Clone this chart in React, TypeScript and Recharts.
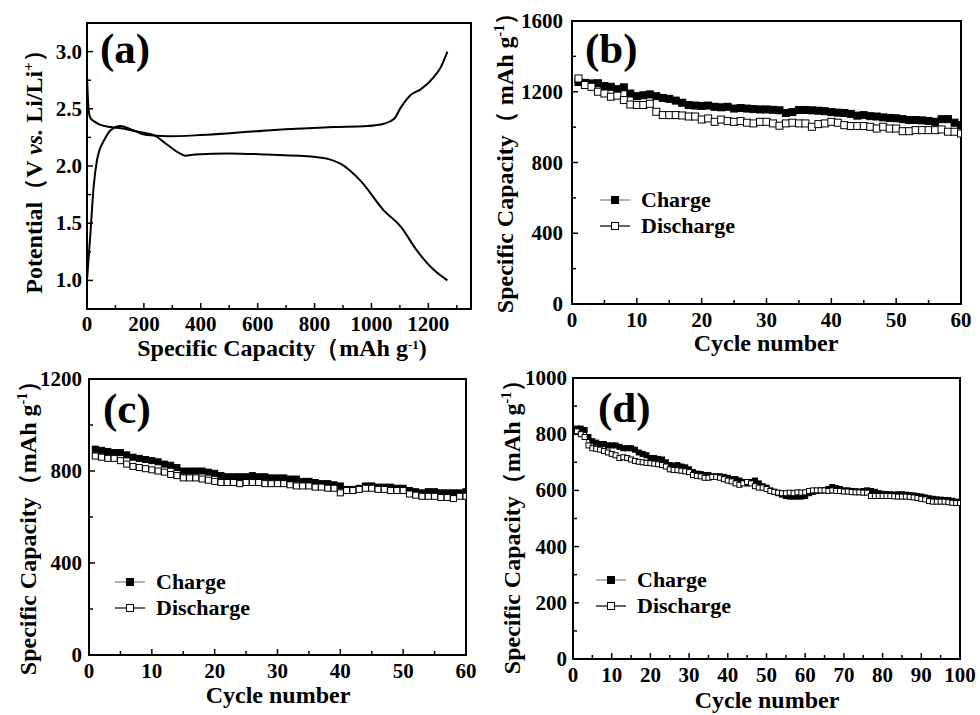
import { LineChart, Line, XAxis, YAxis, ReferenceArea, Legend } from "recharts";

const FONT = '"Liberation Serif", "Times New Roman", Times, serif';

// (a) voltage profile
const dischargeCapA = [0, 3, 6, 12, 25, 47, 80, 120, 160, 200, 235, 280, 320, 346, 380, 500, 633, 798, 850, 891, 962, 1044, 1103, 1160, 1220, 1267];
const dischargeVoltA = [2.78, 2.6, 2.48, 2.42, 2.39, 2.36, 2.34, 2.33, 2.31, 2.29, 2.27, 2.19, 2.12, 2.09, 2.1, 2.11, 2.1, 2.08, 2.06, 2.02, 1.87, 1.61, 1.47, 1.26, 1.09, 1.0];
const chargeCapA = [0, 12, 23, 35, 47, 59, 82, 117, 164, 211, 282, 399, 633, 868, 985, 1044, 1079, 1103, 1138, 1173, 1220, 1243, 1267];
const chargeVoltA = [1.0, 1.41, 1.81, 2.05, 2.16, 2.22, 2.31, 2.35, 2.31, 2.27, 2.26, 2.27, 2.31, 2.34, 2.35, 2.37, 2.41, 2.51, 2.62, 2.67, 2.78, 2.86, 3.0];
const xTicksA = [0, 100, 200, 300, 400, 500, 600, 700, 800, 900, 1000, 1100, 1200, 1300];
const yTicksA = [1, 1.25, 1.5, 1.75, 2, 2.25, 2.5, 2.75, 3];

// (b) cycling, 60 cycles
const chargeB = [1255, 1250, 1247, 1248, 1232, 1228, 1215, 1225, 1190, 1175, 1180, 1185, 1175, 1165, 1160, 1150, 1138, 1125, 1122, 1120, 1122, 1115, 1112, 1115, 1105, 1108, 1105, 1102, 1100, 1100, 1098, 1095, 1080, 1085, 1097, 1097, 1095, 1093, 1090, 1085, 1082, 1080, 1075, 1065, 1068, 1062, 1060, 1055, 1052, 1050, 1045, 1040, 1040, 1038, 1035, 1030, 1045, 1045, 1025, 1012];
const dischargeB = [1275, 1238, 1228, 1200, 1190, 1172, 1178, 1153, 1128, 1125, 1125, 1132, 1087, 1068, 1068, 1068, 1066, 1060, 1060, 1043, 1049, 1030, 1043, 1034, 1030, 1034, 1025, 1021, 1030, 1030, 1021, 1008, 1021, 1025, 1021, 1021, 1002, 1017, 1021, 1030, 1025, 1011, 1006, 1006, 1006, 1002, 992, 1002, 992, 992, 977, 977, 983, 983, 983, 983, 987, 974, 974, 964];
const yTicksB = [0, 200, 400, 600, 800, 1000, 1200, 1400, 1600];

// (c) cycling, 60 cycles
const chargeC = [895, 890, 885, 880, 880, 870, 860, 855, 850, 845, 840, 830, 825, 815, 800, 800, 800, 800, 795, 790, 780, 775, 775, 775, 775, 780, 775, 775, 770, 770, 770, 765, 765, 755, 755, 750, 745, 745, 740, 735, 720, 720, 725, 735, 735, 730, 730, 730, 725, 725, 715, 710, 705, 710, 710, 705, 705, 705, 705, 710];
const dischargeC = [865, 860, 855, 855, 845, 830, 820, 815, 810, 805, 800, 795, 785, 780, 770, 770, 770, 765, 760, 755, 750, 750, 750, 745, 750, 750, 750, 745, 745, 745, 745, 740, 735, 735, 735, 730, 730, 725, 725, 705, 715, 715, 720, 725, 725, 720, 720, 715, 715, 715, 700, 695, 690, 690, 690, 685, 685, 680, 690, 690];
const yTicksC = [0, 200, 400, 600, 800, 1000, 1200];

// (d) cycling, 100 cycles
const chargeD = [820, 820, 815, 790, 775, 770, 765, 765, 760, 760, 760, 755, 750, 750, 750, 745, 735, 730, 725, 715, 715, 712, 710, 700, 690, 688, 690, 685, 682, 675, 665, 660, 658, 655, 655, 650, 650, 650, 648, 645, 640, 640, 635, 630, 625, 630, 635, 625, 615, 610, 600, 595, 590, 585, 580, 578, 578, 578, 578, 580, 590, 595, 598, 600, 600, 605, 612, 608, 605, 600, 600, 598, 597, 596, 598, 600, 598, 595, 590, 588, 587, 586, 585, 586, 586, 585, 583, 582, 580, 578, 575, 572, 570, 568, 567, 566, 565, 563, 560, 558];
const dischargeD = [810, 800, 790, 760, 750, 748, 745, 740, 735, 730, 725, 715, 718, 715, 710, 705, 702, 700, 698, 697, 695, 693, 690, 685, 675, 673, 672, 670, 668, 665, 655, 652, 650, 645, 645, 648, 648, 645, 640, 635, 632, 625, 620, 625, 630, 625, 615, 610, 610, 605, 598, 595, 592, 590, 590, 592, 590, 593, 592, 593, 598, 600, 600, 600, 600, 598, 600, 598, 598, 596, 596, 594, 593, 593, 592, 592, 580, 580, 580, 580, 580, 580, 579, 578, 578, 578, 577, 575, 573, 570, 568, 562, 560, 560, 560, 560, 558, 556, 555, 555];
const yTicksD = [0, 100, 200, 300, 400, 500, 600, 700, 800, 900, 1000];

const cycleTicks60 = [0, 5, 10, 15, 20, 25, 30, 35, 40, 45, 50, 55, 60];
const cycleTicks100 = [0, 5, 10, 15, 20, 25, 30, 35, 40, 45, 50, 55, 60, 65, 70, 75, 80, 85, 90, 95, 100];

const toPoints = (xs: number[], ys: number[]) => xs.map((x, i) => ({ x, y: ys[i] }));
const toCycles = (ys: number[]) => ys.map((y, i) => ({ x: i + 1, y }));

const isMajor = (v: number, step: number) => Math.abs(v / step - Math.round(v / step)) < 1e-6;

const textStyle = { fontFamily: FONT, fontWeight: 700, fill: "#000" } as const;

// inward ticks, labels only on major values
const xTick = (step: number, drop = 23) => (p: any) => {
  const v = p.payload.value;
  const major = isMajor(v, step);
  return (
    <g>
      <line x1={p.x} x2={p.x} y1={p.y} y2={p.y - (major ? 6 : 4)} stroke="#000" strokeWidth={1.5} />
      {major && (
        <text x={p.x} y={p.y + drop} textAnchor="middle" fontSize={21} {...textStyle}>
          {String(v)}
        </text>
      )}
    </g>
  );
};

const yTick = (step: number, gap: number, fmt: (v: number) => string) => (p: any) => {
  const v = p.payload.value;
  const major = isMajor(v, step);
  return (
    <g>
      <line x1={p.x} x2={p.x + (major ? 6 : 4)} y1={p.y} y2={p.y} stroke="#000" strokeWidth={1.5} />
      {major && (
        <text x={p.x - gap} y={p.y + 7} textAnchor="end" fontSize={21} {...textStyle}>
          {fmt(v)}
        </text>
      )}
    </g>
  );
};

const squareDot = (size: number, filled: boolean) => (p: any) => {
  if (p.cx == null || p.cy == null) return <g key={p.index} />;
  return (
    <rect
      key={p.index}
      x={p.cx - size / 2}
      y={p.cy - size / 2}
      width={size}
      height={size}
      fill={filled ? "#000" : "#fff"}
      stroke="#000"
      strokeWidth={1}
    />
  );
};

const capacityTitleY = (bx: number, cy: number, spaced: boolean) => () => (
  <text transform={`rotate(-90 ${bx} ${cy})`} x={bx} y={cy} textAnchor="middle" fontSize={24} {...textStyle}>
    {spaced ? "Specific Capacity（ mAh g" : "Specific Capacity（mAh g"}
    <tspan dy={-9} fontSize={14}>-1</tspan>
    <tspan dy={9}>{"）"}</tspan>
  </text>
);

const cycleTitleX = (cx: number, by: number) => () => (
  <text x={cx} y={by} textAnchor="middle" fontSize={24} {...textStyle}>
    Cycle number
  </text>
);

const panelTag = (tx: number, ty: number, tag: string) => () => (
  <text x={tx} y={ty} fontSize={43} {...textStyle}>
    {tag}
  </text>
);

const renderLegend = (size: number) => (props: any) => (
  <div style={{ fontFamily: FONT, fontWeight: 700, fontSize: 22, color: "#000" }}>
    {(props.payload ?? []).map((e: any) => {
      const filled = e.value === "Charge";
      return (
        <div key={e.value} style={{ display: "flex", alignItems: "center", height: 26 }}>
          <svg width={30} height={10} style={{ marginRight: 11 }}>
            <line x1={0} x2={30} y1={5} y2={5} stroke={filled ? "#999" : "#333"} strokeWidth={1.5} />
            <rect x={15 - size / 2} y={5 - size / 2} width={size} height={size} fill={filled ? "#000" : "#fff"} stroke="#000" />
          </svg>
          <span>{e.value}</span>
        </div>
      );
    })}
  </div>
);

function ProfilePanel() {
  return (
    <div style={{ position: "absolute", left: 0, top: 0 }}>
      <LineChart width={490} height={370} margin={{ top: 23, right: 19, left: 0, bottom: 0 }}>
        <XAxis
          type="number"
          dataKey="x"
          domain={[0, 1350]}
          ticks={xTicksA}
          interval={0}
          tickSize={0}
          tickMargin={0}
          tickLine={false}
          axisLine={false}
          tick={xTick(200, 22)}
          height={61}
          allowDataOverflow
          label={() => (
            <text x={282} y={356} textAnchor="middle" fontSize={24} {...textStyle}>
              {"Specific Capacity（mAh g"}
              <tspan dy={-7} fontSize={13}>-1</tspan>
              <tspan dy={7}>)</tspan>
            </text>
          )}
        />
        <YAxis
          type="number"
          dataKey="y"
          domain={[0.75, 3.25]}
          ticks={yTicksA}
          interval={0}
          tickSize={0}
          tickMargin={0}
          tickLine={false}
          axisLine={false}
          tick={yTick(0.5, 5, (v) => v.toFixed(1))}
          width={87}
          allowDataOverflow
          label={() => (
            <text transform="rotate(-90 42 166)" x={42} y={166} textAnchor="middle" fontSize={24} {...textStyle}>
              {"Potential（V "}
              <tspan fontStyle="italic">vs.</tspan>
              {" Li/Li"}
              <tspan dy={-9} fontSize={15}>+</tspan>
              <tspan dy={9}>{"）"}</tspan>
            </text>
          )}
        />
        <ReferenceArea
          x1={0}
          x2={1350}
          y1={0.75}
          y2={3.25}
          fill="none"
          stroke="#000"
          strokeWidth={2}
          label={panelTag(100, 63, "(a)")}
        />
        <Line
          data={toPoints(dischargeCapA, dischargeVoltA)}
          dataKey="y"
          type="monotone"
          stroke="#000"
          strokeWidth={2}
          dot={false}
          isAnimationActive={false}
        />
        <Line
          data={toPoints(chargeCapA, chargeVoltA)}
          dataKey="y"
          type="monotone"
          stroke="#000"
          strokeWidth={2}
          dot={false}
          isAnimationActive={false}
        />
      </LineChart>
    </div>
  );
}

type CycleProps = {
  left: number;
  top: number;
  height: number;
  mTop: number;
  yWidth: number;
  mRight: number;
  xHeight: number;
  xMax: number;
  xTicks: number[];
  yMax: number;
  yTicks: number[];
  yStep: number;
  yGap: number;
  charge: number[];
  discharge: number[];
  marker: number;
  yTitle: [number, number, boolean];
  xTitle: [number, number];
  tag: [number, number, string];
  legendPos: [number, number];
};

function CyclePanel(p: CycleProps) {
  return (
    <div style={{ position: "absolute", left: p.left, top: p.top }}>
      <LineChart width={490} height={p.height} margin={{ top: p.mTop, right: p.mRight, left: 0, bottom: 0 }}>
        <XAxis
          type="number"
          dataKey="x"
          domain={[0, p.xMax]}
          ticks={p.xTicks}
          interval={0}
          tickSize={0}
          tickMargin={0}
          tickLine={false}
          axisLine={false}
          tick={xTick(10)}
          height={p.xHeight}
          allowDataOverflow
          label={cycleTitleX(p.xTitle[0], p.xTitle[1])}
        />
        <YAxis
          type="number"
          dataKey="y"
          domain={[0, p.yMax]}
          ticks={p.yTicks}
          interval={0}
          tickSize={0}
          tickMargin={0}
          tickLine={false}
          axisLine={false}
          tick={yTick(p.yStep, p.yGap, (v) => String(v))}
          width={p.yWidth}
          allowDataOverflow
          label={capacityTitleY(p.yTitle[0], p.yTitle[1], p.yTitle[2])}
        />
        <ReferenceArea
          x1={0}
          x2={p.xMax}
          y1={0}
          y2={p.yMax}
          fill="none"
          stroke="#000"
          strokeWidth={2}
          label={panelTag(p.tag[0], p.tag[1], p.tag[2])}
        />
        <Legend
          layout="vertical"
          align="center"
          verticalAlign="middle"
          wrapperStyle={{ left: p.legendPos[0], top: p.legendPos[1], width: 220 }}
          content={renderLegend(7)}
        />
        <Line
          name="Charge"
          data={toCycles(p.charge)}
          dataKey="y"
          type="linear"
          stroke="#000"
          strokeWidth={1}
          dot={squareDot(p.marker, true)}
          isAnimationActive={false}
        />
        <Line
          name="Discharge"
          data={toCycles(p.discharge)}
          dataKey="y"
          type="linear"
          stroke="#333"
          strokeWidth={1}
          dot={squareDot(p.marker, false)}
          isAnimationActive={false}
        />
      </LineChart>
    </div>
  );
}

export default function App() {
  return (
    <div style={{ position: "absolute", left: 0, top: 0, width: 980, height: 715, background: "#fff", overflow: "hidden" }}>
      <ProfilePanel />
      <CyclePanel
        left={490}
        top={0}
        height={370}
        mTop={21}
        yWidth={82}
        mRight={19}
        xHeight={66}
        xMax={60}
        xTicks={cycleTicks60}
        yMax={1600}
        yTicks={yTicksB}
        yStep={400}
        yGap={9}
        charge={chargeB}
        discharge={dischargeB}
        marker={7}
        yTitle={[23, 157, true]}
        xTitle={[276, 351]}
        tag={[95, 63, "(b)"]}
        legendPos={[110, 187]}
      />
      <CyclePanel
        left={0}
        top={355}
        height={360}
        mTop={24}
        yWidth={89}
        mRight={24}
        xHeight={60}
        xMax={60}
        xTicks={cycleTicks60}
        yMax={1200}
        yTicks={yTicksC}
        yStep={400}
        yGap={7}
        charge={chargeC}
        discharge={dischargeC}
        marker={6}
        yTitle={[36, 167, false]}
        xTitle={[278, 348]}
        tag={[103, 68, "(c)"]}
        legendPos={[115, 214]}
      />
      <CyclePanel
        left={490}
        top={355}
        height={360}
        mTop={23}
        yWidth={83}
        mRight={20}
        xHeight={56}
        xMax={100}
        xTicks={cycleTicks100}
        yMax={1000}
        yTicks={yTicksD}
        yStep={200}
        yGap={6}
        charge={chargeD}
        discharge={dischargeD}
        marker={5}
        yTitle={[30, 166, false]}
        xTitle={[277, 353]}
        tag={[108, 67, "(d)"]}
        legendPos={[106, 212]}
      />
    </div>
  );
}
